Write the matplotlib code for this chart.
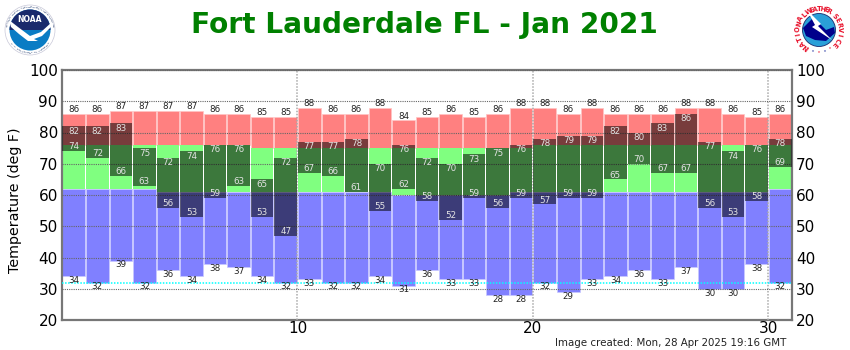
import numpy as np
import matplotlib
matplotlib.use("Agg")
import matplotlib.pyplot as plt
from matplotlib.patches import Circle, Polygon, Wedge

days = np.arange(1, 32)
record_high = [86, 86, 87, 87, 87, 87, 86, 86, 85, 85,
               88, 86, 86, 88, 84, 85, 86, 85, 86, 88,
               88, 86, 88, 86, 86, 86, 88, 88, 86, 85, 86]
record_low = [34, 32, 39, 32, 36, 34, 38, 37, 34, 32,
              33, 32, 32, 34, 31, 36, 33, 33, 28, 28,
              32, 29, 33, 34, 36, 33, 37, 30, 30, 38, 32]
actual_high = [82, 82, 83, 75, 72, 74, 76, 76, 65, 72,
               77, 77, 78, 70, 76, 72, 70, 73, 75, 76,
               78, 79, 79, 82, 80, 83, 86, 77, 74, 76, 78]
actual_low = [74, 72, 66, 63, 56, 53, 59, 63, 53, 47,
              67, 66, 61, 55, 62, 58, 52, 59, 56, 59,
              57, 59, 59, 65, 70, 67, 67, 56, 53, 58, 69]
normal_high = [76, 76, 76, 76, 76, 76, 76, 76, 75, 75,
               75, 75, 75, 75, 75, 75, 75, 75, 75, 75,
               76, 76, 76, 76, 76, 76, 76, 76, 76, 76, 76]
normal_low = [62, 62, 62, 62, 61, 61, 61, 61, 61, 61,
              61, 61, 61, 61, 60, 60, 60, 60, 60, 61,
              61, 61, 61, 61, 61, 61, 61, 61, 61, 61, 62]
freezing = 32
yticks = [20, 30, 40, 50, 60, 70, 80, 90, 100]
xticks = [10, 20, 30]

record_high, record_low = np.array(record_high), np.array(record_low)
actual_high, actual_low = np.array(actual_high), np.array(actual_low)
normal_high, normal_low = np.array(normal_high), np.array(normal_low)

fig = plt.figure(figsize=(8.5, 3.5), dpi=100)
ax = fig.add_axes([62/850, 1-320/350, 730/850, 250/350])

left = days - 1 + 0.02
w = 0.96
ax.bar(left, record_high-normal_high, w, bottom=normal_high, align="edge", color="#ff8080", edgecolor="#ffc4c4", linewidth=0.5, zorder=2)
ax.bar(left, normal_high-normal_low, w, bottom=normal_low, align="edge", color="#80ff80", zorder=2)
ax.bar(left, normal_low-record_low, w, bottom=record_low, align="edge", color="#8080ff", edgecolor="#c8c8ff", linewidth=0.5, zorder=2)
ax.bar(left, actual_high-actual_low, w, bottom=actual_low, align="edge", color="black", alpha=0.53, zorder=3)

ax.set_xlim(0, 31)
ax.set_ylim(20, 100)
ax.set_xticks(xticks)
ax.set_yticks(yticks)
ax.tick_params(length=0, labelsize=11, pad=3, labelright=True, right=False)
ax.tick_params(axis="x", pad=0.5)
for s in ax.spines.values():
    s.set_color("#777777")
    s.set_linewidth(1.6)

ax.yaxis.grid(True, color="#666666", linestyle=(0, (1, 1)), linewidth=0.8, zorder=4)
ax.xaxis.grid(True, color="#aaaaaa", linestyle=(0, (1, 1)), linewidth=1.1, zorder=4)
ax.set_axisbelow(False)
ax.axhline(freezing, color="#00ffff", linestyle=(0, (1, 1)), linewidth=1.1, zorder=5)

for i, d in enumerate(days):
    x = d - 0.5
    ax.annotate(str(record_high[i]), (x, record_high[i]), xytext=(0, 2.8), textcoords="offset points",
                ha="center", va="center", fontsize=6.3, color="#222222", zorder=6)
    ax.annotate(str(record_low[i]), (x, record_low[i]), xytext=(0, -3.1), textcoords="offset points",
                ha="center", va="center", fontsize=6.3, color="#222222", zorder=6)
    ax.annotate(str(actual_high[i]), (x, actual_high[i]), xytext=(0, -3.6), textcoords="offset points",
                ha="center", va="center", fontsize=6.3, color="#e4e4e4", zorder=6)
    ax.annotate(str(actual_low[i]), (x, actual_low[i]), xytext=(0, 3.1), textcoords="offset points",
                ha="center", va="center", fontsize=6.3, color="#e4e4e4", zorder=6)

fig.text(15/850, 1-200/350, "Temperature (deg F)", fontsize=10.3, rotation=90, ha="center", va="center")
fig.text(424/850, 1-25/350, "Fort Lauderdale FL - Jan 2021", color="#008000", fontsize=20.2,
         fontweight="bold", ha="center", va="center")
fig.text(786/850, 1-342.5/350, "Image created: Mon, 28 Apr 2025 19:16 GMT", fontsize=7.4,
         color="#222222", ha="right", va="center")

# logos, drawn in pixel coordinates on an overlay
logo = fig.add_axes([0, 0, 1, 1], facecolor="none")
logo.set_xlim(0, 850)
logo.set_ylim(350, 0)
logo.axis("off")


def ring_text(text, cx, cy, r, start, stop, color, size, weight="bold", flip=False):
    angles = np.linspace(start, stop, len(text))
    for ch, a in zip(text, angles):
        t = np.radians(a)
        rot = a - 90 if not flip else a + 90
        logo.text(cx + r*np.cos(t), cy - r*np.sin(t), ch, color=color, fontsize=size,
                  fontweight=weight, ha="center", va="center", rotation=rot)


# NOAA
logo.add_patch(Circle((30, 30), 25, fc="white", ec="#c8c8d8", lw=0.5))
logo.add_patch(Circle((30, 30), 20.5, fc="#0a7cc4", ec="none"))
logo.add_patch(Wedge((30, 30), 20.5, 180, 360, fc="#1a2a6c", ec="none"))
logo.add_patch(Polygon([[9, 20], [18, 27], [30, 36], [41, 32], [52, 22], [51, 27], [42, 36],
                        [34, 39], [38, 41], [28, 41], [19, 34], [11, 27]], fc="white", ec="none"))
logo.text(30, 20, "NOAA", color="white", fontsize=5.5, fontweight="bold", ha="center", va="center")
ring_text("NATIONAL OCEANIC AND ATMOSPHERIC ADMINISTRATION", 30, 30, 23, 170, 10, "#667799", 1.7)
ring_text("U.S. DEPARTMENT OF COMMERCE", 30, 30, 23, 215, 325, "#667799", 1.7, flip=True)

# NWS
logo.add_patch(Circle((819, 30), 16.5, fc="#2aa0d8", ec="#1a2a6c", lw=0.6))
logo.add_patch(Polygon([[803, 28], [812, 19], [820, 24], [826, 30], [834, 27], [835, 33], [826, 41],
                        [815, 40], [806, 36]], fc="#00008b", ec="none"))
logo.add_patch(Polygon([[807, 10], [821, 24], [818, 26], [832, 40], [812, 27], [815, 25]],
                       fc="white", ec="none"))
ring_text("NATIONAL", 819, 30, 21, 232, 135, "#e8102a", 4.8)
ring_text("WEATHER", 819, 30, 21, 118, 62, "#e8102a", 4.8)
ring_text("SERVICE", 819, 30, 21, 42, -42, "#e8102a", 4.8)
logo.scatter([808, 813, 819, 825, 830], [48, 51, 52, 51, 48], s=3,
             c=["#e8102a", "#1a2a9c", "#e8102a", "#1a2a9c", "#e8102a"], marker="*", linewidths=0)

fig.savefig("out.png", dpi=100)
